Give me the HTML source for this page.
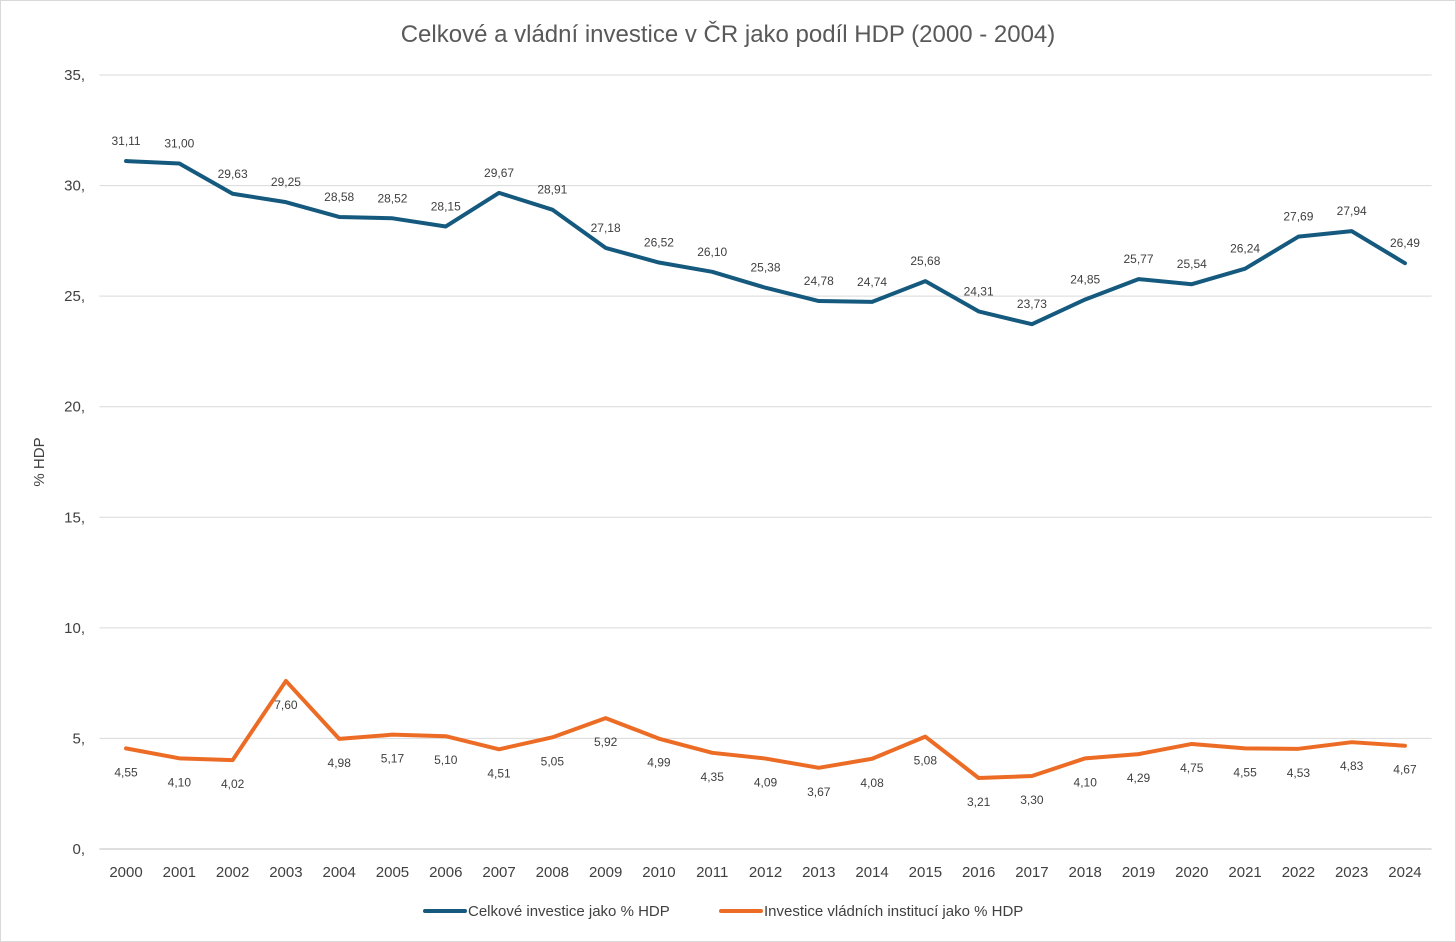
<!DOCTYPE html>
<html><head><meta charset="utf-8"><style>
html,body{margin:0;padding:0;background:#fff;}
svg{display:block;font-family:"Liberation Sans",sans-serif;}
</style></head><body>
<svg id="chart" width="1456" height="942" viewBox="0 0 1456 942">
<rect x="0.5" y="0.5" width="1455" height="941" fill="#fff" stroke="#d9d9d9"/>
<text x="728" y="42" text-anchor="middle" font-size="24" fill="#595959">Celkové a vládní investice v ČR jako podíl HDP (2000 - 2004)</text>
<text transform="translate(44,462) rotate(-90)" text-anchor="middle" font-size="15" fill="#404040">% HDP</text>
<g id="grid"></g><g id="series"></g><g id="labels"></g>
<g>
<line x1="425" y1="911" x2="465" y2="911" stroke="#155a7e" stroke-width="4" stroke-linecap="round"/>
<text x="468" y="916" font-size="15" fill="#404040">Celkové investice jako % HDP</text>
<line x1="721" y1="911" x2="761" y2="911" stroke="#ec6c26" stroke-width="4" stroke-linecap="round"/>
<text x="764" y="916" font-size="15" fill="#404040">Investice vládních institucí jako % HDP</text>
</g>
</svg>
<script>
const years=["2000","2001","2002","2003","2004","2005","2006","2007","2008","2009","2010","2011","2012","2013","2014","2015","2016","2017","2018","2019","2020","2021","2022","2023","2024"];
const totalInv=[31.11,31.00,29.63,29.25,28.58,28.52,28.15,29.67,28.91,27.18,26.52,26.10,25.38,24.78,24.74,25.68,24.31,23.73,24.85,25.77,25.54,26.24,27.69,27.94,26.49];
const govInv=[4.55,4.10,4.02,7.60,4.98,5.17,5.10,4.51,5.05,5.92,4.99,4.35,4.09,3.67,4.08,5.08,3.21,3.30,4.10,4.29,4.75,4.55,4.53,4.83,4.67];
const yTicks=[0,5,10,15,20,25,30,35];
const NS="http://www.w3.org/2000/svg";
const left=99.4,right=1431.6,y0=849,y35=75;
const step=(right-left)/years.length;
const xs=i=>left+step*(i+0.5);
const ys=v=>y0-(v/35)*(y0-y35);
const fmt=v=>v.toFixed(2).replace('.',',');
function mk(tag,attrs,parent,text){const e=document.createElementNS(NS,tag);for(const k in attrs)e.setAttribute(k,attrs[k]);if(text!==undefined)e.textContent=text;parent.appendChild(e);return e;}
const grid=document.getElementById('grid'),ser=document.getElementById('series'),lab=document.getElementById('labels');
yTicks.forEach(t=>{
 const l=mk('line',{x1:left,x2:right,y1:ys(t),y2:ys(t),stroke:t===0?'#bfbfbf':'#d9d9d9','stroke-width':1},grid);
 
 
 const tx=mk('text',{x:85,y:ys(t)+5,'text-anchor':'end','font-size':15,fill:'#404040'},grid,t+',');
 
 
});
years.forEach((y,i)=>{
 const tx=mk('text',{x:xs(i),y:877,'text-anchor':'middle','font-size':15,fill:'#404040'},grid,y);
 
 
});
function line(vals,color,name,dy){
 const p=mk('polyline',{points:vals.map((v,i)=>xs(i)+','+ys(v)).join(' '),fill:'none',stroke:color,'stroke-width':4,'stroke-linejoin':'round','stroke-linecap':'round'},ser);
 
 
 vals.forEach((v,i)=>{
  const t=mk('text',{x:xs(i),y:ys(v)+dy,'text-anchor':'middle','font-size':12,fill:'#404040'},lab,fmt(v));
  
  
 });
}
line(totalInv,'#155a7e','total-investment',-16);
line(govInv,'#ec6c26','gov-investment',28);
</script>
</body></html>
